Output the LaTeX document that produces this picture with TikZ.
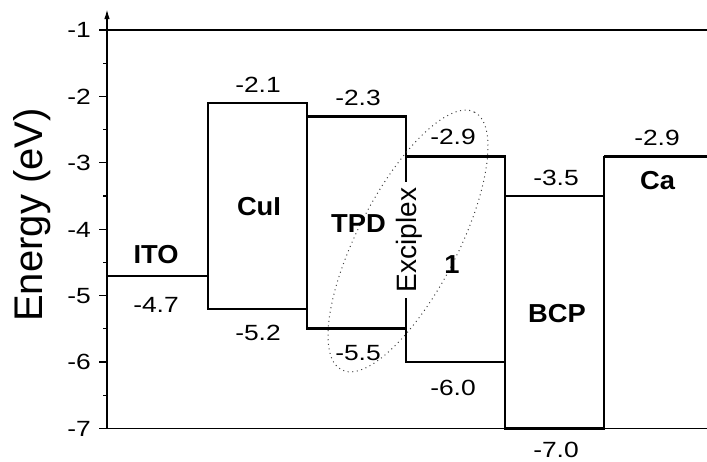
\documentclass[tikz,border=0pt]{standalone}
\usepackage{fontspec}
\setmainfont{Liberation Sans}
\newfontfamily\numf{Liberation Sans}[FakeStretch=1.2]
\newfontfamily\labf{Liberation Sans}[FakeStretch=1.05]
\usetikzlibrary{arrows.meta}
\begin{document}
\begin{tikzpicture}[x=1pt,y=-1pt,
  num/.style={font=\numf\fontsize{22}{26}\selectfont, inner sep=0pt, anchor=base},
  lab/.style={font=\labf\bfseries\fontsize{26}{30}\selectfont, inner sep=0pt, anchor=base},
  level/.style={line width=2.8pt},
  thinline/.style={line width=1.3pt},
  tickl/.style={num, anchor=base east},
  dotline/.style={line width=1pt, dash pattern=on 1pt off 3.6pt, black!75}]
\useasboundingbox (0,0) rectangle (707,461);

% axis frame
\coordinate (axB) at (107,428.4);
\coordinate (axT) at (107,9);
\coordinate (topL) at (107,30);
\coordinate (topR) at (707,30);
\coordinate (botR) at (707,428.4);
\draw[thinline] (topL) -- (topR);
\draw[thinline] (axB) -- (botR);
\draw[line width=1.6pt, -{Latex[length=10pt,width=5.5pt]}] (axB) -- (axT);

% ticks and tick labels
\foreach \v/\y [count=\i] in {-1/30,-2/96.4,-3/162.8,-4/229.2,-5/295.6,-6/362,-7/428.4}{
  \draw[thinline] (99,\y) -- (107,\y);
  \node[tickl] (t\i) at (91,{\y+7.9}) {\v};
}
\foreach \y in {63.2,129.6,196,262.4,328.8,395.2}
  \draw[thinline] (103,\y) -- (107,\y);

% axis title
\node[rotate=90, anchor=base, inner sep=0pt, font=\fontsize{40}{46}\selectfont] (ylab) at (42,215) {Energy (eV)};

% energy levels
\draw[line width=2.2pt] (107,275.7) -- (208,275.7);
\draw[level] (208,103) rectangle (307,308.9);
\draw[level] (307,116.3) rectangle (406,328.8);
\draw[level] (406,156.2) rectangle (505,362);
\draw[level] (505,196) rectangle (604,428.4);
\draw[line width=1.2pt] (604,196) -- (604,156.2);
\draw[level] (604,156.2) -- (707,156.2);

% exciplex label (interrupts the shared edge)
\node[rotate=90, anchor=base, fill=white, inner xsep=6pt, inner ysep=1pt,
      font=\fontsize{28}{32}\selectfont] (exc) at (416,240) {Exciplex};

% exciplex ellipse
\begin{scope}[shift={(408,241)}, rotate=62.7]
  \draw[dotline] (0,0) ellipse [x radius=145pt, y radius=50pt];
\end{scope}

% layer names
\node[lab] (ito) at (156,263) {ITO};
\node[lab] (cui) at (259,215) {CuI};
\node[lab] (tpd) at (358.5,232) {TPD};
\node[lab] (one) at (452,273) {1};
\node[lab] (bcp) at (557,322) {BCP};
\node[lab] (ca) at (657.5,189) {Ca};

% level values
\node[num] (v1) at (258,92) {-2.1};
\node[num] (v2) at (358,105.3) {-2.3};
\node[num] (v3) at (453,144.5) {-2.9};
\node[num] (v4) at (556,185) {-3.5};
\node[num] (v5) at (657,145) {-2.9};
\node[num] (v6) at (156,312) {-4.7};
\node[num] (v7) at (258,340) {-5.2};
\node[num] (v8) at (358,360) {-5.5};
\node[num] (v9) at (453,395) {-6.0};
\node[num] (v10) at (556,457) {-7.0};
\end{tikzpicture}
\end{document}
